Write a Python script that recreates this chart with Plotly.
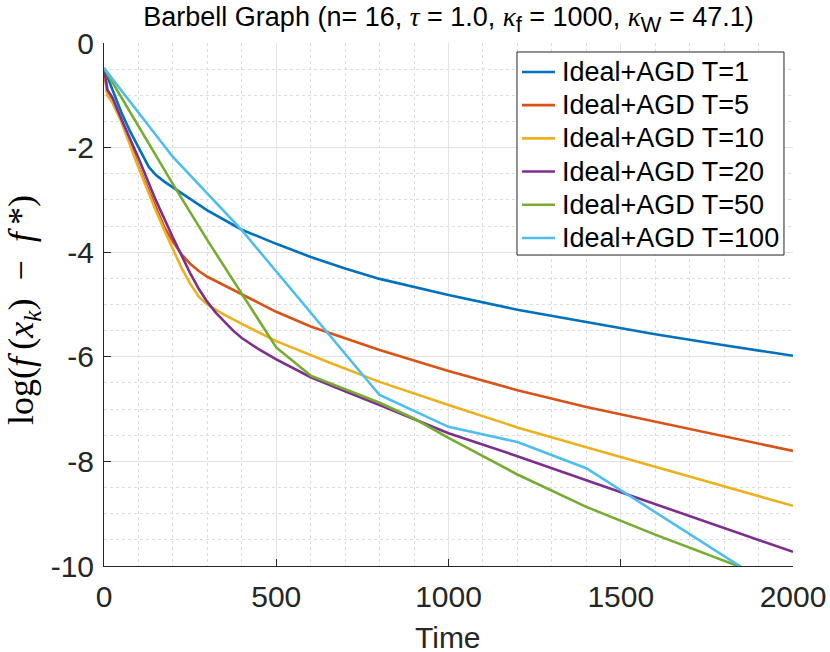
import plotly.graph_objects as go

t1 = [0, 25, 50, 75, 100, 115, 130, 150, 175, 200, 250, 300, 400, 500, 600, 700, 800, 900, 1000, 1200, 1400, 1600, 1800, 2000]
gap1 = [-0.48, -0.9, -1.32, -1.68, -2.0, -2.2, -2.37, -2.52, -2.65, -2.76, -2.98, -3.2, -3.57, -3.84, -4.09, -4.31, -4.51, -4.67, -4.82, -5.1, -5.34, -5.57, -5.78, -5.98]

t5 = [0, 10, 25, 50, 100, 125, 150, 175, 200, 225, 250, 275, 300, 350, 400, 500, 600, 800, 1000, 1200, 1400, 1600, 1800, 2000]
gap5 = [-0.48, -1.0, -1.12, -1.45, -2.35, -2.75, -3.15, -3.52, -3.8, -4.04, -4.22, -4.36, -4.47, -4.64, -4.8, -5.14, -5.42, -5.87, -6.27, -6.64, -6.96, -7.24, -7.52, -7.8]

t10 = [0, 10, 25, 50, 100, 125, 150, 175, 200, 225, 250, 275, 300, 325, 350, 400, 500, 650, 800, 1000, 1200, 1400, 1600, 1800, 2000]
gap10 = [-0.48, -1.0, -1.15, -1.5, -2.38, -2.8, -3.2, -3.58, -3.95, -4.3, -4.6, -4.85, -5.0, -5.1, -5.2, -5.37, -5.7, -6.1, -6.48, -6.92, -7.35, -7.73, -8.1, -8.48, -8.85]

t20 = [0, 10, 25, 50, 100, 150, 200, 225, 250, 275, 300, 325, 350, 375, 400, 450, 500, 600, 700, 800, 1000, 1200, 1400, 1600, 1800, 2000]
gap20 = [-0.48, -0.9, -1.05, -1.45, -2.2, -3.0, -3.72, -4.07, -4.4, -4.7, -4.95, -5.16, -5.33, -5.5, -5.64, -5.86, -6.05, -6.39, -6.66, -6.92, -7.46, -7.9, -8.36, -8.82, -9.27, -9.73]

t50 = [0, 100, 200, 300, 400, 500, 600, 800, 900, 1000, 1200, 1400, 1600, 1800, 2000]
gap50 = [-0.48, -1.6, -2.7, -3.77, -4.8, -5.82, -6.36, -6.88, -7.18, -7.55, -8.25, -8.87, -9.4, -9.9, -10.4]

t100 = [0, 200, 400, 600, 800, 1000, 1200, 1400, 1600, 1800, 2000]
gap100 = [-0.48, -2.18, -3.58, -5.15, -6.73, -7.34, -7.63, -8.13, -8.97, -9.81, -10.65]

names = ["Ideal+AGD T=1", "Ideal+AGD T=5", "Ideal+AGD T=10", "Ideal+AGD T=20", "Ideal+AGD T=50", "Ideal+AGD T=100"]
colors = ["#0072BD", "#D95319", "#EDB120", "#7E2F8E", "#77AC30", "#4DBEEE"]

x_ticks = [0, 500, 1000, 1500, 2000]
x_ticktext = ["0", "500", "1000", "1500", "2000"]
y_ticks = [-10, -8, -6, -4, -2, 0]
y_ticktext = ["-10", "-8", "-6", "-4", "-2", "0"]

series = [(t1, gap1), (t5, gap5), (t10, gap10), (t20, gap20), (t50, gap50), (t100, gap100)]

fig = go.Figure()
for (tt, gg), name, color in zip(series, names, colors):
    fig.add_trace(go.Scatter(x=tt, y=gg, mode="lines", name=name, showlegend=False,
                             line={"color": color, "width": 2.6}))

axis_color = "#262626"
serif = "font-family:Liberation Serif"
title_text = (
    f"Barbell Graph (n= 16, <span style='{serif}'><i>τ</i></span> = 1.0, "
    f"<span style='{serif}'><i>κ</i></span><sub><span style='font-size:22px'>f</span></sub> = 1000, "
    f"<span style='{serif}'><i>κ</i></span><sub><span style='font-size:22px'>W</span></sub> = 47.1)"
)

# MATLAB-style legend box drawn in paper coordinates (tighter rows than plotly's legend)
box = {"x0": 0.5994, "x1": 0.9869, "y0": 0.5946, "y1": 0.9828}
row_top = 0.9446
row_step = 33.2 / 523
shapes = [dict(type="rect", xref="paper", yref="paper", line={"color": axis_color, "width": 1},
               fillcolor="white", layer="above", **box)]
annotations = []
for i, (name, color) in enumerate(zip(names, colors)):
    yy = row_top - i * row_step
    shapes.append(dict(type="line", xref="paper", yref="paper", x0=0.6067, x1=0.6546, y0=yy, y1=yy,
                       line={"color": color, "width": 2.6}, layer="above"))
    annotations.append(dict(text=name, xref="paper", yref="paper", x=0.6618, y=yy, xanchor="left",
                            yanchor="middle", showarrow=False, font={"size": 27, "color": "black"}))

ylabel = "log(<i>f</i>\u2009(<i>x</i><sub><i>k</i></sub>)\u2002−\u2002<i>f</i>\u2009*)"
annotations.append(dict(
    text=ylabel,
    xref="paper", yref="paper", x=-0.1161, y=0.4895, xanchor="center", yanchor="middle",
    textangle=-90, showarrow=False,
    font={"size": 36, "family": "Liberation Serif", "color": "black"},
))
annotations.append(dict(
    text="Time", xref="paper", yref="paper", x=0.4993, y=-0.1358, xanchor="center", yanchor="middle",
    showarrow=False, font={"size": 30, "color": axis_color},
))

fig.update_layout(
    width=830,
    height=652,
    margin={"l": 104, "r": 37, "t": 43, "b": 86},
    paper_bgcolor="white",
    plot_bgcolor="white",
    font={"family": "Liberation Sans", "color": axis_color},
    showlegend=False,
    title={
        "text": title_text,
        "x": (104 + 689 / 2) / 830,
        "xanchor": "center",
        "y": 1 - 7 / 652,
        "yanchor": "top",
        "pad": {"t": 0},
        "font": {"size": 27, "color": "black"},
    },
    shapes=shapes,
    annotations=annotations,
)

fig.update_xaxes(
    range=[0, 2000],
    automargin=False,
    tickvals=x_ticks,
    ticktext=x_ticktext,
    tickfont={"size": 30},
    ticklabelstandoff=4,
    ticklabeloverflow="allow",
    ticks="inside",
    ticklen=7,
    tickcolor=axis_color,
    showline=True,
    linecolor=axis_color,
    linewidth=1,
    mirror=False,
    zeroline=False,
    showgrid=True,
    gridcolor="#e3e3e3",
    gridwidth=1,
    minor={"dtick": 100, "showgrid": True, "gridcolor": "#dcdcdc", "griddash": "dot", "ticks": ""},
)

fig.update_yaxes(
    range=[-10, 0],
    automargin=False,
    tickvals=y_ticks,
    ticktext=y_ticktext,
    tickfont={"size": 30},
    ticklabelstandoff=3,
    ticks="inside",
    ticklen=7,
    tickcolor=axis_color,
    showline=True,
    linecolor=axis_color,
    linewidth=1,
    mirror=False,
    zeroline=False,
    showgrid=True,
    gridcolor="#e3e3e3",
    gridwidth=1,
    minor={"dtick": 0.5, "showgrid": True, "gridcolor": "#dcdcdc", "griddash": "dot", "ticks": ""},
)

# drop the browser's default 8px body margin so the 830x652 figure fills the window
fig.write_html("out.html", config={"displayModeBar": False},
               post_script="document.body.style.margin = '0';")
